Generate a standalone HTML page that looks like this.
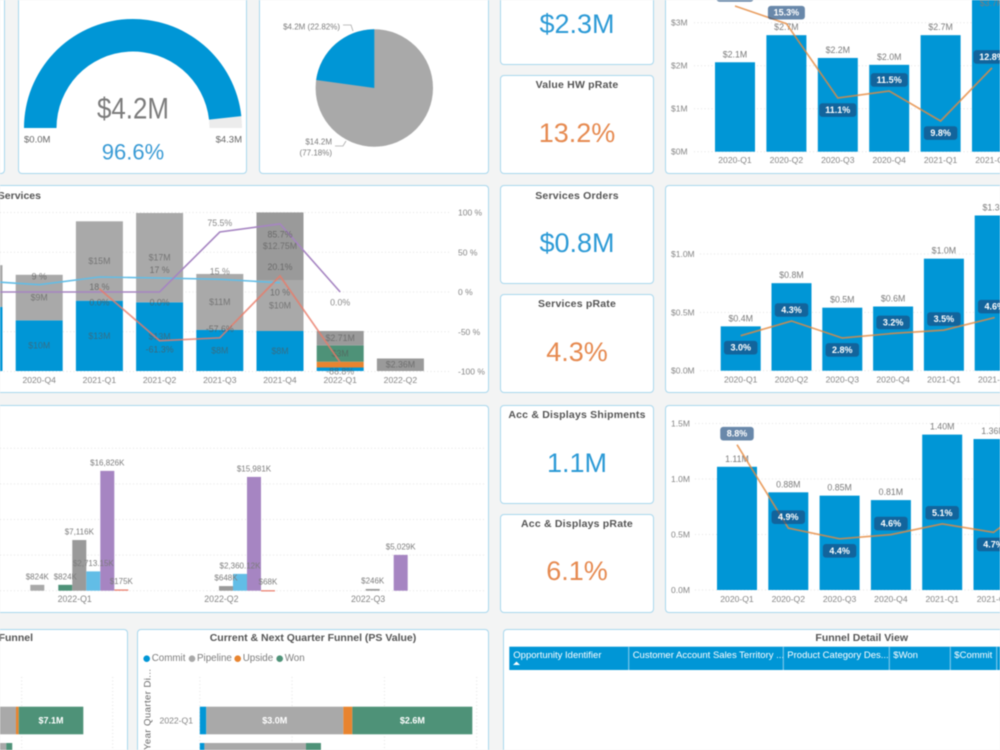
<!DOCTYPE html>
<html lang="en">
<head>
<meta charset="utf-8">
<title>Sales Dashboard</title>
<style>
html,body{margin:0;padding:0;background:#f3f4f4;overflow:hidden;width:1000px;height:750px;}
#page{position:relative;width:1000px;height:750px;overflow:hidden;background:#f3f4f4;font-family:"Liberation Sans",sans-serif;filter:blur(.4px);}
.card{position:absolute;box-sizing:border-box;background:#fff;border:1.5px solid #a9d8ee;border-radius:4px;}
.no-top{border-top:0;border-top-left-radius:0;border-top-right-radius:0;}
.no-left{border-left:0;border-top-left-radius:0;border-bottom-left-radius:0;}
.no-right{border-right:0;border-top-right-radius:0;border-bottom-right-radius:0;}
.no-bottom{border-bottom:0;border-bottom-left-radius:0;border-bottom-right-radius:0;}
.kpi-title{position:absolute;left:0;right:0;text-align:center;font-size:10.5px;line-height:14px;color:#555;letter-spacing:.2px;font-weight:bold;}
.kpi-value{position:absolute;left:0;right:0;text-align:center;font-size:27px;line-height:32px;}
.blue{color:#2c9ad6;}
.orange{color:#e68a50;}
#chart-layer{position:absolute;left:0;top:0;}
text{font-family:"Liberation Sans",sans-serif;}
</style>
</head>
<body>
<div id="page">
  <div class="card no-top no-left" style="left:0;top:0;width:5px;height:173.5px"></div>
  <div class="card no-top" style="left:18px;top:0;width:229px;height:173.5px"></div>
  <div class="card no-top" style="left:259px;top:0;width:230px;height:173.5px"></div>

  <div class="card no-top" style="left:500px;top:0;width:154px;height:65px">
    <div class="kpi-value blue" style="top:8px">$2.3M</div>
  </div>
  <div class="card" style="left:500px;top:75px;width:154px;height:99px">
    <div class="kpi-title" style="top:2px">Value HW pRate</div>
    <div class="kpi-value orange" style="top:41px">13.2%</div>
  </div>
  <div class="card" style="left:500px;top:185px;width:154px;height:99px">
    <div class="kpi-title" style="top:3px">Services Orders</div>
    <div class="kpi-value blue" style="top:41px">$0.8M</div>
  </div>
  <div class="card" style="left:500px;top:294px;width:154px;height:99px">
    <div class="kpi-title" style="top:2px">Services pRate</div>
    <div class="kpi-value orange" style="top:41px">4.3%</div>
  </div>
  <div class="card" style="left:500px;top:405px;width:154px;height:99px">
    <div class="kpi-title" style="top:2px">Acc &amp; Displays Shipments</div>
    <div class="kpi-value blue" style="top:41px">1.1M</div>
  </div>
  <div class="card" style="left:500px;top:514px;width:154px;height:99px">
    <div class="kpi-title" style="top:2px">Acc &amp; Displays pRate</div>
    <div class="kpi-value orange" style="top:40px">6.1%</div>
  </div>

  <div class="card no-top no-right" style="left:665px;top:0;width:335px;height:173.5px"></div>
  <div class="card no-right" style="left:665px;top:185px;width:335px;height:207.5px"></div>
  <div class="card no-right" style="left:665px;top:405px;width:335px;height:207.5px"></div>

  <div class="card no-left" style="left:0;top:185px;width:489px;height:208px"></div>
  <div class="card no-left" style="left:0;top:405px;width:489px;height:207.5px"></div>
  <div class="card no-left no-bottom" style="left:0;top:629px;width:128px;height:121px"></div>
  <div class="card no-bottom" style="left:137px;top:629px;width:352px;height:121px"></div>
  <div class="card no-right no-bottom" style="left:503px;top:629px;width:497px;height:121px"></div>

  <svg id="chart-layer" width="1000" height="750" viewBox="0 0 1000 750" style="overflow:hidden"></svg>
</div>

<script>
// ---------- Gauge and pie data ----------
const gaugeActual = 4.15;
const gaugeTarget = 4.3;
const pieValues = [4.199, 14.2];

// ---------- Combo chart: value HW ----------
const hwQuarters = ['2020-Q1', '2020-Q2', '2020-Q3', '2020-Q4', '2021-Q1', '2021-Q2'];
const hwValues = [2.08, 2.71, 2.18, 2.02, 2.71, 3.7];
const hwRates = [16.3, 15.3, 11.1, 11.5, 9.8, 12.8];
const hwRateSides = ['above', 'above', 'below', 'above', 'below', 'above'];
const hwTicks = [0, 1, 2, 3];

// ---------- Combo chart: services orders ----------
const svcQuarters = ['2020-Q1', '2020-Q2', '2020-Q3', '2020-Q4', '2021-Q1', '2021-Q2'];
const svcValues = [0.38, 0.75, 0.54, 0.55, 0.96, 1.33];
const svcRates = [3.0, 4.3, 2.8, 3.2, 3.5, 4.6];
const svcRateSides = ['below', 'above', 'below', 'above', 'above', 'above'];
const svcTicks = [0, 0.5, 1.0];

// ---------- Combo chart: acc & displays ----------
const accQuarters = ['2020-Q1', '2020-Q2', '2020-Q3', '2020-Q4', '2021-Q1', '2021-Q2', '2021-Q3'];
const accValues = [1.11, 0.88, 0.85, 0.81, 1.40, 1.36, 1.10];
const accRates = [8.8, 4.9, 4.4, 4.6, 5.1, 4.7, 6.5];
const accRateSides = ['above', 'above', 'below', 'above', 'above', 'below', 'above'];
const accTicks = [0, 0.5, 1.0, 1.5];

// ---------- Stacked services chart ----------
const stackQuarters = ['2020-Q3', '2020-Q4', '2021-Q1', '2021-Q2', '2021-Q3', '2021-Q4', '2022-Q1', '2022-Q2'];
const stackBlue = [12.1, 9.55, 13.26, 12.96, 7.74, 7.55, 0.66, 0];
const stackOrange = [0, 0, 0, 0, 0, 0, 1.09, 0];
const stackGreen = [0, 0, 0, 0, 0, 0, 3.09, 0];
const stackGrey = [7.87, 8.6, 14.98, 16.85, 10.57, 9.62, 0, 0];
const stackDark = [0, 0, 0, 0, 0, 12.75, 2.71, 2.36];
const pctTicks = [100, 50, 0, -50, -100];
const shareLine = [14, 9.2, 18.9, 17.6, 16, 11.7, null, null];
const shareLabels = ['', '9 %', '18 %', '17 %', '15 %', '10 %', '', ''];
const shareSides = ['above', 'above', 'below', 'above', 'above', 'below', 'above', 'above'];
const growthLine = [0, 0, 0, 0, 75.5, 85.7, 0, null];
const growthLabels = ['', '', '0.0%', '0.0%', '75.5%', '85.7%', '0.0%', ''];
const growthSides = ['below', 'below', 'below', 'below', 'above', 'below', 'below', 'below'];
const declineLine = [null, null, 4, -61.3, -57.6, 20.1, -88.6, null];
const declineLabels = ['', '', '', '-61.3%', '-57.6%', '20.1%', '-88.8%', ''];
const declineSides = ['below', 'below', 'below', 'below', 'above', 'above', 'below', 'below'];

// ---------- Quarter columns chart ----------
const colQuarters = ['2022-Q1', '2022-Q2', '2022-Q3'];
const colGrey = [824, 0, 0];
const colGreen = [824, 0, 0];
const colDark = [7116, 648, 246];
const colLightBlue = [2713.15, 2360.12, 0];
const colPurple = [16826, 15981, 5029];
const colSalmon = [175, 68, 0];
const colTicks = [0, 5000, 10000, 15000, 20000];

// ---------- Funnel bars ----------
const funnelQuarters = ['2022-Q1', '2022-Q2'];
const funnelCommit = [0.14, 0.10];
const funnelPipeline = [2.97, 2.2];
const funnelUpside = [0.195, 0];
const funnelWon = [2.6, 0.325];
const funnelTicks = [0, 2, 4, 6];
const leftCommit = [2, 1];
const leftPipeline = [7.37, 7.3];
const leftUpside = [0.3, 0];
const leftWon = [7.1, 0.66];
const leftTicks = [10, 20];
const legendNames = ['Commit', 'Pipeline', 'Upside', 'Won'];

// ---------- Table ----------
const tableColumns = ['Opportunity Identifier', 'Customer Account Sales Territory ...', 'Product Category Des...', '$Won', '$Commit'];

const COL = {blue:'#0096d6', grey:'#a9a9a9', dark:'#9a9a9a', green:'#4e9278', orange:'#e8842f', lblue:'#62bde6', purple:'#a685c2', salmon:'#ea7a68', line:'#e58a3e', tick:'#858585', lab:'#7c7c7c', grid:'#e3e3e3', title:'#555'};
const SVGNS = 'http://www.w3.org/2000/svg';
const layer = document.getElementById('chart-layer');

function mk(parent, tag, attrs) {
  const el = document.createElementNS(SVGNS, tag);
  for (const k in attrs) el.setAttribute(k, attrs[k]);
  parent.appendChild(el);
  return el;
}
function group(parent) { return mk(parent, 'g', {}); }
function txt(parent, x, y, s, size, fill, anchor) {
  const el = mk(parent, 'text', {x: x, y: y, 'font-size': size, fill: fill, 'text-anchor': anchor || 'middle', 'dominant-baseline': 'central'});
  el.textContent = s;
  return el;
}
function linePath(points) { return points.map((p, i) => (i ? 'L' : 'M') + p[0].toFixed(1) + ' ' + p[1].toFixed(1)).join(' '); }
function sideOffset(side, up, down) { return side === 'above' ? -up : down; }

// ---------- Generic combo chart (bars + rate line with badges) ----------
function drawCombo(cfg) {
  const g = group(layer);
  
  
  const xPos = i => cfg.firstX + i * cfg.step;
  const yVal = v => cfg.y0 - v * cfg.k;
  const yRate = r => cfg.rateY0 - r * cfg.rateK;
  cfg.ticks.forEach(t => {
    const y = yVal(t);
    const gl = mk(g, 'line', {x1: cfg.gridX, x2: 1000, y1: y, y2: y, stroke: COL.grid, 'stroke-width': 1, 'stroke-dasharray': '1 2.5'});
    
    
    const tl = txt(g, 671, y, cfg.tickFmt(t), 8.5, COL.tick, 'start');
    
    
  });
  cfg.values.forEach((v, i) => {
    const x = xPos(i), y = yVal(v);
    const b = mk(g, 'rect', {x: x - 20, y: y, width: 40, height: cfg.y0 - y, fill: COL.blue});
    
    
    const vl = txt(g, x, Math.max(y - 8, 3), cfg.valueFmt(v), 8.8, COL.lab);
    
    
    const xl = txt(g, x, cfg.xLabelY, cfg.quarters[i], 8.6, COL.tick);
    
    
  });
  const pts = cfg.rates.map((r, i) => [xPos(i), yRate(r)]);
  const rl = mk(g, 'path', {d: linePath(pts), fill: 'none', stroke: COL.line, 'stroke-width': 1.7, 'stroke-opacity': .8});
  
  
  cfg.rates.forEach((r, i) => {
    const cy = yRate(r) + sideOffset(cfg.sides[i], 11, 12);
    const s = r.toFixed(1) + '%';
    const w = s.length > 4 ? 37 : 33.5;
    const bx = mk(g, 'rect', {x: xPos(i) - w / 2, y: cy - 6.8, width: w, height: 13.6, rx: 3, fill: '#1c4a7e', 'fill-opacity': .66});
    
    
    const t = txt(g, xPos(i), cy, s, 9, '#fff');
    t.setAttribute('font-weight', 'bold');
    
    
  });
}

drawCombo({name: 'hw-combo-chart', quarters: hwQuarters, values: hwValues, rates: hwRates, sides: hwRateSides, ticks: hwTicks,
  firstX: 735, step: 51.4, y0: 151.7, k: 43, rateY0: 294.5, rateK: 17.7, gridX: 694, xLabelY: 160,
  tickFmt: t => '$' + t + 'M', valueFmt: v => '$' + v.toFixed(1) + 'M'});
drawCombo({name: 'services-combo-chart', quarters: svcQuarters, values: svcValues, rates: svcRates, sides: svcRateSides, ticks: svcTicks,
  firstX: 740.7, step: 50.8, y0: 370.7, k: 116.7, rateY0: 369.6, rateK: 11.3, gridX: 700, xLabelY: 379.5,
  tickFmt: t => '$' + t.toFixed(1) + 'M', valueFmt: v => '$' + v.toFixed(1) + 'M'});
drawCombo({name: 'acc-combo-chart', quarters: accQuarters, values: accValues, rates: accRates, sides: accRateSides, ticks: accTicks,
  firstX: 737, step: 51.3, y0: 590, k: 111, rateY0: 633, rateK: 21.4, gridX: 695, xLabelY: 599,
  tickFmt: t => t.toFixed(1) + 'M', valueFmt: v => v.toFixed(2) + 'M'});

// ---------- Gauge ----------
(function () {
  const g = group(layer);
  
  
  const cx = 133, cy = 128, ro = 109, ri = 76.5;
  const pt = (r, frac) => [cx - r * Math.cos(Math.PI * frac), cy - r * Math.sin(Math.PI * frac)];
  const band = (f0, f1) => {
    const a = pt(ro, f0), b = pt(ro, f1), c = pt(ri, f1), d = pt(ri, f0);
    return 'M' + a + ' A' + ro + ' ' + ro + ' 0 0 1 ' + b + ' L' + c + ' A' + ri + ' ' + ri + ' 0 0 0 ' + d + ' Z';
  };
  const frac = gaugeActual / gaugeTarget;
  const bg = mk(g, 'path', {d: band(0, 1), fill: '#ececec'});
  
  
  const fg = mk(g, 'path', {d: band(0, frac), fill: COL.blue});
  
  
  const main = txt(g, 133, 109, '$' + gaugeActual.toFixed(1) + 'M', 30, '#7c7c7c');
  main.setAttribute('textLength', 72);
  main.setAttribute('lengthAdjust', 'spacingAndGlyphs');
  
  
  const pct = txt(g, 133, 152, (frac * 100 + 0.1).toFixed(1) + '%', 22, '#3a9bd5');
  
  
  const mn = txt(g, 24, 140, '$0.0M', 9.5, '#666', 'start');
  
  
  const mx = txt(g, 242, 140, '$' + gaugeTarget.toFixed(1) + 'M', 9.5, '#666', 'end');
  
  
})();

// ---------- Pie ----------
(function () {
  const g = group(layer);
  
  
  const cx = 374.3, cy = 88, r = 58.7;
  const total = pieValues.reduce((a, b) => a + b, 0);
  const share = pieValues[0] / total;
  const ang = share * 2 * Math.PI;
  const ex = cx - r * Math.sin(ang), ey = cy - r * Math.cos(ang);
  const greyS = mk(g, 'circle', {cx: cx, cy: cy, r: r, fill: COL.grey});
  
  
  const blueS = mk(g, 'path', {d: 'M' + cx + ' ' + cy + ' L' + cx + ' ' + (cy - r) + ' A' + r + ' ' + r + ' 0 ' + (share > .5 ? 1 : 0) + ' 0 ' + ex + ' ' + ey + ' Z', fill: COL.blue});
  
  
  const a = txt(g, 340, 27, '$' + pieValues[0].toFixed(1) + 'M (' + (share * 100).toFixed(2) + '%)', 8, COL.lab, 'end');
  
  
  const b = txt(g, 332, 142, '$' + pieValues[1].toFixed(1) + 'M', 8, COL.lab, 'end');
  
  
  const c = txt(g, 332, 153, '(' + ((1 - share) * 100).toFixed(2) + '%)', 8, COL.lab, 'end');
  
  
  const l1 = mk(g, 'path', {d: 'M343 25 H351 L353 31', fill: 'none', stroke: '#aaa', 'stroke-width': .8});
  
  
  const l2 = mk(g, 'path', {d: 'M335 146 H343 L346 141', fill: 'none', stroke: '#aaa', 'stroke-width': .8});
  
  
})();

// ---------- Stacked services chart ----------
(function () {
  const g = group(layer);
  
  
  const xPos = i => -21 + i * 60.2;
  const y0 = 371, k = 5.3;
  const yPct = p => 292 - p * 0.795;
  const title = txt(g, 41, 196, 'Services', 10.5, COL.title, 'end');
  title.setAttribute('font-weight', 'bold');
  
  
  pctTicks.forEach(t => {
    const y = yPct(t);
    const gl = mk(g, 'line', {x1: 0, x2: 449, y1: y, y2: y, stroke: COL.grid, 'stroke-width': 1, 'stroke-dasharray': '1 2.5'});
    
    
    const tl = txt(g, 458, y, t + ' %', 8.5, COL.tick, 'start');
    
    
  });
  const layers = [
    {vals: stackBlue, color: COL.blue, two: false},
    {vals: stackOrange, color: COL.orange, two: false},
    {vals: stackGreen, color: COL.green, two: false},
    {vals: stackGrey, color: COL.grey, two: false},
    {vals: stackDark, color: COL.dark, two: true}
  ];
  stackQuarters.forEach((q, i) => {
    let base = 0;
    layers.forEach(L => {
      const v = L.vals[i];
      if (v > 0) {
        const yTop = y0 - (base + v) * k, h = v * k;
        const seg = mk(g, 'rect', {x: xPos(i) - 23.5, y: yTop, width: 47, height: h, fill: L.color});
        
        
        if (v >= 2) {
          const lb = txt(g, xPos(i), yTop + h / 2, L.two ? '$' + v.toFixed(2) + 'M' : '$' + Math.round(v) + 'M', 8.8, '#555');
          lb.setAttribute('fill-opacity', .62);
          
          
        }
        base += v;
      }
    });
    const xl = txt(g, xPos(i), 380, q, 8.6, COL.tick);
    
    
  });
  const seriesPts = arr => arr.map((v, i) => v === null ? null : [xPos(i), yPct(v)]).filter(Boolean);
  const sh = mk(g, 'path', {d: linePath(seriesPts(shareLine)), fill: 'none', stroke: COL.lblue, 'stroke-width': 1.6});
  
  
  const gr = mk(g, 'path', {d: linePath(seriesPts(growthLine)), fill: 'none', stroke: COL.purple, 'stroke-width': 1.6});
  
  
  const de = mk(g, 'path', {d: linePath(seriesPts(declineLine)), fill: 'none', stroke: COL.salmon, 'stroke-width': 1.7, 'stroke-opacity': .8});
  
  
  shareLabels.forEach((s, i) => {
    if (!s) return;
    const t = txt(g, xPos(i), yPct(shareLine[i]) + sideOffset(shareSides[i], 8, 10), s, 8.8, '#555');
    t.setAttribute('fill-opacity', .7);
    
    
  });
  growthLabels.forEach((s, i) => {
    if (!s) return;
    const t = txt(g, xPos(i), yPct(growthLine[i]) + sideOffset(growthSides[i], 9, 10.5), s, 8.8, '#555');
    t.setAttribute('fill-opacity', .7);
    
    
  });
  declineLabels.forEach((s, i) => {
    if (!s) return;
    const t = txt(g, xPos(i), yPct(declineLine[i]) + sideOffset(declineSides[i], 9, 9), s, 8.8, '#555');
    t.setAttribute('fill-opacity', .7);
    
    
  });
})();

// ---------- Quarter columns chart ----------
(function () {
  const g = group(layer);
  
  
  const y0 = 590.7, k = 35.6 / 5000;
  const yVal = v => y0 - v * k;
  const slotX = (q, slot) => 30.3 + q * 146.7 + slot * 14;
  colTicks.forEach(t => {
    const y = yVal(t);
    const gl = mk(g, 'line', {x1: 0, x2: 484, y1: y, y2: y, stroke: COL.grid, 'stroke-width': 1, 'stroke-dasharray': '1 2.5'});
    
    
  });
  const series = [
    {vals: colGrey, color: COL.grey, slot: 0},
    {vals: colGreen, color: COL.green, slot: 2},
    {vals: colDark, color: COL.dark, slot: 3},
    {vals: colLightBlue, color: COL.lblue, slot: 4},
    {vals: colPurple, color: COL.purple, slot: 5},
    {vals: colSalmon, color: COL.salmon, slot: 6}
  ];
  const fmt = v => '$' + (Number.isInteger(v) ? v.toLocaleString('en-US') : v.toLocaleString('en-US', {minimumFractionDigits: 2})) + 'K';
  colQuarters.forEach((q, qi) => {
    series.forEach(s => {
      const v = s.vals[qi];
      if (!v) return;
      const x = slotX(qi, s.slot), y = yVal(v);
      const b = mk(g, 'rect', {x: x, y: y, width: 14, height: Math.max(y0 - y, 1.2), fill: s.color});
      
      
    });
    const xl = txt(g, 74.7 + qi * 146.7, 599, q, 8.8, COL.tick);
    
    
  });
  colQuarters.forEach((q, qi) => {
    series.forEach(s => {
      const v = s.vals[qi];
      if (!v) return;
      const l = txt(g, slotX(qi, s.slot) + 7, yVal(v) - 8, fmt(v), 8, COL.lab);
      
      
    });
  });
})();

// ---------- Funnel charts ----------
function drawFunnel(cfg) {
  const g = group(layer);
  
  
  const xVal = v => cfg.x0 + v * cfg.k;
  cfg.ticks.forEach(t => {
    const gl = mk(g, 'line', {x1: xVal(t), x2: xVal(t), y1: 677, y2: 750, stroke: COL.grid, 'stroke-width': 1, 'stroke-dasharray': '1 2.5'});
    
    
  });
  const parts = [
    {vals: cfg.commit, color: COL.blue},
    {vals: cfg.pipeline, color: '#a9a9a9'},
    {vals: cfg.upside, color: COL.orange},
    {vals: cfg.won, color: COL.green}
  ];
  funnelQuarters.forEach((q, i) => {
    const y = 706.7 + i * 36.3;
    let base = 0;
    parts.forEach(p => {
      const v = p.vals[i];
      if (v > 0) {
        const r = mk(g, 'rect', {x: xVal(base), y: y, width: v * cfg.k, height: 27.6, fill: p.color});
        
        
        if (v >= 1) {
          const l = txt(g, xVal(base) + v * cfg.k / 2, y + 14, '$' + v.toFixed(1) + 'M', 9, '#fff');
          l.setAttribute('font-weight', 'bold');
          
          
        }
        base += v;
      }
    });
    if (cfg.showCats) {
      const c = txt(g, 193, y + 14, q, 8.6, COL.tick, 'end');
      
      
    }
  });
}
drawFunnel({name: 'left-funnel-chart', x0: -69.3, k: 9.1, ticks: leftTicks, commit: leftCommit, pipeline: leftPipeline, upside: leftUpside, won: leftWon, showCats: false});
drawFunnel({name: 'current-next-funnel-chart', x0: 199.8, k: 46.15, ticks: funnelTicks, commit: funnelCommit, pipeline: funnelPipeline, upside: funnelUpside, won: funnelWon, showCats: true});

(function () {
  const g = group(layer);
  
  
  const t1 = txt(g, 33, 638, 'Funnel', 10.5, COL.title, 'end');
  t1.setAttribute('font-weight', 'bold');
  
  
  const t2 = txt(g, 313, 638, 'Current & Next Quarter Funnel (PS Value)', 10.5, COL.title);
  t2.setAttribute('font-weight', 'bold');
  
  
  const dotX = [146.7, 192, 237.7, 279.7];
  const dotCol = [COL.blue, '#a9a9a9', COL.orange, COL.green];
  legendNames.forEach((n, i) => {
    const d = mk(g, 'circle', {cx: dotX[i], cy: 658.7, r: 3.3, fill: dotCol[i]});
    
    
    const l = txt(g, dotX[i] + 5, 658.7, n, 9.8, COL.lab, 'start');
    
    
  });
  const yt = mk(g, 'text', {transform: 'translate(148,750) rotate(-90)', 'font-size': 9.6, fill: '#666', 'dominant-baseline': 'central', 'letter-spacing': '.4'});
  yt.textContent = 'Year Quarter Di...';
  
  
})();

// ---------- Detail table header ----------
(function () {
  const g = group(layer);
  
  
  const title = txt(g, 861.7, 638, 'Funnel Detail View', 10.5, COL.title);
  title.setAttribute('font-weight', 'bold');
  
  
  const hdr = mk(g, 'rect', {x: 509.3, y: 646.7, width: 491, height: 23.3, fill: COL.blue});
  
  
  const edges = [509.3, 628.7, 783.3, 889.3, 950.3, 996.7];
  tableColumns.forEach((c, i) => {
    const t = txt(g, edges[i] + 4, 655.5, c, 9.5, '#fff', 'start');
    
    
  });
  edges.slice(1).forEach(x => {
    const s = mk(g, 'line', {x1: x, x2: x, y1: 646.7, y2: 670, stroke: '#8ccdec', 'stroke-width': 1});
    
    
  });
  const arrow = mk(g, 'path', {d: 'M513 665 L516.5 661.5 L520 665 Z', fill: '#fff'});
  
  
})();
</script>
</body>
</html>
